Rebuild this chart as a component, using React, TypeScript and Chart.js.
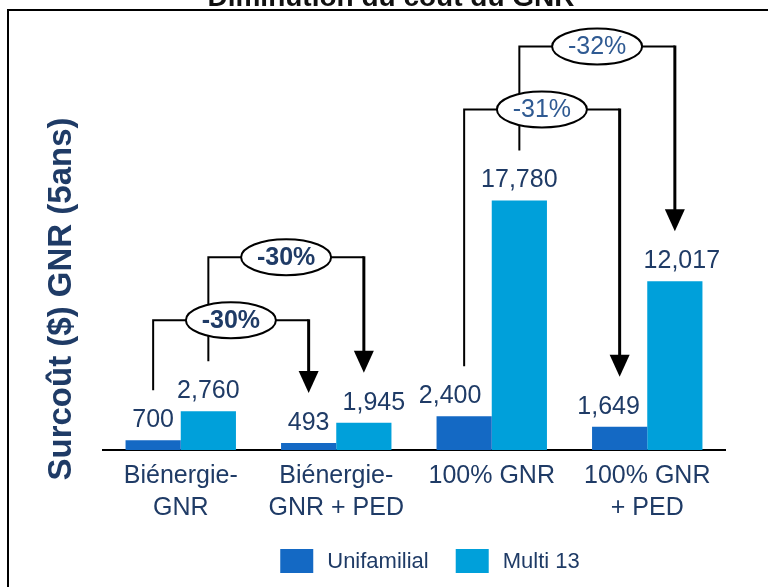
import React, { useEffect, useRef } from "react";
import { Chart, registerables } from "chart.js";

Chart.register(...registerables);

// ---- data ----
const categories: (string | string[])[] = [
  ["Biénergie-", "GNR"],
  ["Biénergie-", "GNR + PED"],
  "100% GNR",
  ["100% GNR", "+ PED"],
];
const seriesNames = ["Unifamilial", "Multi 13"];
const unifamilial = [700, 493, 2400, 1649];
const multi13 = [2760, 1945, 17780, 12017];
// reduction brackets: from category -> to category, for series index
const bracketFrom = [0, 0, 2, 2];
const bracketTo = [1, 1, 3, 3];
const bracketSeries = [0, 1, 0, 1];
const bracketLabels = ["-30%", "-30%", "-31%", "-32%"];
const chartTitle = "Diminution du coût du GNR";
const yTitle = "Surcoût ($) GNR (5ans)";

// ---- style ----
const COLORS = ["#1469C4", "#00A0DA"];
const NAVY = "#1F3B66";
const FONT = "'Liberation Sans', Arial, sans-serif";
const LABEL_SHIFT = [
  [0, 0, -14, -11],
  [0, 10, 0, 7],
];

const overlay = {
  id: "overlay",
  afterDatasetsDraw(chart: any) {
    const ctx = chart.ctx as CanvasRenderingContext2D;
    const metas = [chart.getDatasetMeta(0), chart.getDatasetMeta(1)];
    ctx.save();
    // value labels
    ctx.font = `25px ${FONT}`;
    ctx.fillStyle = NAVY;
    ctx.textAlign = "center";
    ctx.textBaseline = "alphabetic";
    metas.forEach((m: any, s: number) =>
      m.data.forEach((bar: any, i: number) => {
        const v = chart.data.datasets[s].data[i] as number;
        ctx.fillText(v.toLocaleString("en-US"), bar.x + LABEL_SHIFT[s][i], bar.y - 13);
      })
    );

    const items = bracketLabels.map((lab, k) => {
      const a = metas[bracketSeries[k]].data[bracketFrom[k]];
      const b = metas[bracketSeries[k]].data[bracketTo[k]];
      const tops = [0, 1].flatMap((s) => [
        metas[s].data[bracketFrom[k]].y,
        metas[s].data[bracketTo[k]].y,
      ]);
      const minTop = Math.min(...tops);
      const level = minTop - (bracketSeries[k] === 0 ? 91 : 154);
      return {
        x1: a.x,
        y1: a.y - 50,
        x2: b.x,
        y2: b.y - 50,
        level,
        lab,
        bold: bracketFrom[k] === 0,
      };
    });

    ctx.strokeStyle = "#000";
    ctx.fillStyle = "#000";
    ctx.lineCap = "butt";
    ctx.lineJoin = "miter";
    items.forEach((it) => {
      ctx.lineWidth = 2;
      ctx.beginPath();
      ctx.moveTo(it.x1, it.y1);
      ctx.lineTo(it.x1, it.level);
      ctx.lineTo(it.x2, it.level);
      ctx.stroke();
      ctx.lineWidth = 3;
      ctx.beginPath();
      ctx.moveTo(it.x2, it.level - 1);
      ctx.lineTo(it.x2, it.y2 - 19);
      ctx.stroke();
      ctx.beginPath();
      ctx.moveTo(it.x2 - 10, it.y2 - 22);
      ctx.lineTo(it.x2 + 10, it.y2 - 22);
      ctx.lineTo(it.x2, it.y2);
      ctx.closePath();
      ctx.fill();
    });
    items.forEach((it) => {
      const cx = (it.x1 + it.x2) / 2;
      ctx.beginPath();
      ctx.ellipse(cx, it.level, 45, 18, 0, 0, Math.PI * 2);
      ctx.fillStyle = "#fff";
      ctx.fill();
      ctx.lineWidth = 2;
      ctx.strokeStyle = "#000";
      ctx.stroke();
      ctx.fillStyle = it.bold ? NAVY : "#2F5A92";
      ctx.font = `${it.bold ? "bold " : ""}25px ${FONT}`;
      ctx.textAlign = "center";
      ctx.textBaseline = "middle";
      ctx.fillText(it.lab, cx, it.level + 1);
    });
    ctx.restore();
  },
  afterDraw(chart: any) {
    const ctx = chart.ctx as CanvasRenderingContext2D;
    ctx.save();
    // frame
    ctx.strokeStyle = "#000";
    ctx.lineWidth = 2;
    ctx.strokeRect(8, 10, 800, 700);
    // title (partly above the visible area)
    ctx.fillStyle = "#111";
    ctx.font = `bold 28px ${FONT}`;
    ctx.textAlign = "center";
    ctx.textBaseline = "alphabetic";
    ctx.fillText(chartTitle, 391, 6);
    // y title
    ctx.save();
    ctx.translate(62, 299);
    ctx.rotate(-Math.PI / 2);
    ctx.fillStyle = NAVY;
    ctx.font = `bold 33px ${FONT}`;
    ctx.textAlign = "center";
    ctx.textBaseline = "middle";
    ctx.fillText(yTitle, 0, 0);
    ctx.restore();
    // legend
    ctx.font = `22px ${FONT}`;
    const w = seriesNames.map((n) => ctx.measureText(n).width);
    const boxW = 33, boxH = 24, gap = 14, itemGap = 27;
    const total = boxW + gap + w[0] + itemGap + boxW + gap + w[1];
    let x = 430 - total / 2;
    const y = 549;
    seriesNames.forEach((n, i) => {
      ctx.fillStyle = COLORS[i];
      ctx.fillRect(x, y, boxW, boxH);
      ctx.fillStyle = NAVY;
      ctx.textAlign = "left";
      ctx.textBaseline = "middle";
      ctx.fillText(n, x + boxW + gap, y + boxH / 2 + 1);
      x += boxW + gap + w[i] + itemGap;
    });
    ctx.restore();
  },
};

export default function App() {
  const ref = useRef<HTMLCanvasElement>(null);
  useEffect(() => {
    if (!ref.current) return;
    const chart = new Chart(ref.current, {
      type: "bar",
      data: {
        labels: categories as any,
        datasets: [
          { label: seriesNames[0], data: unifamilial, backgroundColor: COLORS[0], borderWidth: 0 },
          { label: seriesNames[1], data: multi13, backgroundColor: COLORS[1], borderWidth: 0 },
        ],
      },
      options: {
        responsive: false,
        animation: false,
        devicePixelRatio: 1,
        layout: { padding: { left: 103, right: 43, top: 29, bottom: 53 } },
        datasets: { bar: { categoryPercentage: 0.71, barPercentage: 1 } },
        plugins: {
          legend: { display: false },
          tooltip: { enabled: false },
          title: { display: false },
        },
        scales: {
          x: {
            grid: { display: false, drawTicks: false },
            border: { display: true, color: "#000", width: 2 },
            ticks: {
              color: NAVY,
              padding: 10,
              font: { family: FONT, size: 25, lineHeight: 1.28 },
              maxRotation: 0,
              autoSkip: false,
            },
          },
          y: { display: false, min: 0, max: 30000 },
        },
      },
      plugins: [overlay],
    });
    return () => chart.destroy();
  }, []);
  return (
    <div style={{ position: "absolute", left: 0, top: 0, width: 768, height: 587 }}>
      <canvas ref={ref} width={768} height={587} style={{ display: "block", width: 768, height: 587 }} />
    </div>
  );
}
